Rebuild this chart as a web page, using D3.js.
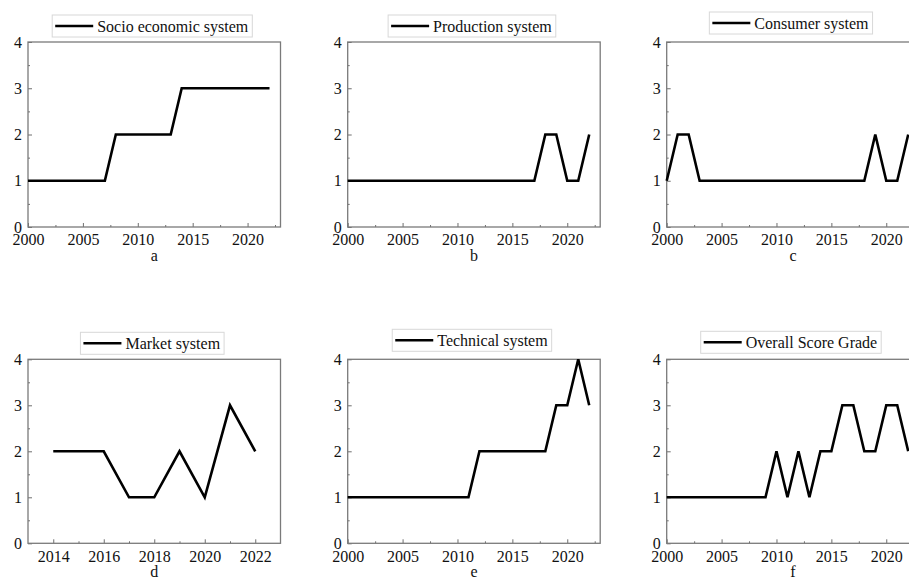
<!DOCTYPE html>
<html>
<head>
<meta charset="utf-8">
<script src="https://cdn.jsdelivr.net/npm/d3@7"></script>
<style>
  body { margin: 0; background: #fff; }
  svg { display: block; }
  .tick line { stroke: #6e6e6e; }
</style>
</head>
<body>
<div id="chart"></div>
<script>
// years on the x axis
var yearsFull = [2000, 2001, 2002, 2003, 2004, 2005, 2006, 2007, 2008, 2009, 2010, 2011,
  2012, 2013, 2014, 2015, 2016, 2017, 2018, 2019, 2020, 2021, 2022];
var yearsMarket = [2014, 2015, 2016, 2017, 2018, 2019, 2020, 2021, 2022];

// grade values
var socioValues      = [1, 1, 1, 1, 1, 1, 1, 1, 2, 2, 2, 2, 2, 2, 3, 3, 3, 3, 3, 3, 3, 3, 3];
var productionValues = [1, 1, 1, 1, 1, 1, 1, 1, 1, 1, 1, 1, 1, 1, 1, 1, 1, 1, 2, 2, 1, 1, 2];
var consumerValues   = [1, 2, 2, 1, 1, 1, 1, 1, 1, 1, 1, 1, 1, 1, 1, 1, 1, 1, 1, 2, 1, 1, 2];
var marketValues     = [2, 2, 2, 1, 1, 2, 1, 3, 2];
var technicalValues  = [1, 1, 1, 1, 1, 1, 1, 1, 1, 1, 1, 1, 2, 2, 2, 2, 2, 2, 2, 3, 3, 4, 3];
var overallValues    = [1, 1, 1, 1, 1, 1, 1, 1, 1, 1, 2, 1, 2, 1, 2, 2, 3, 3, 2, 2, 3, 3, 2];

// tick labels
var yTicks = [0, 1, 2, 3, 4];
var yMinor = [0.5, 1.5, 2.5, 3.5];
var xTicksFull = [2000, 2005, 2010, 2015, 2020];
var xMinorFull = [2002.5, 2007.5, 2012.5, 2017.5, 2022.5];
var xTicksMarket = [2014, 2016, 2018, 2020, 2022];
var xMinorMarket = [2015, 2017, 2019, 2021];

var seriesNames = ["Socio economic system", "Production system", "Consumer system",
  "Market system", "Technical system", "Overall Score Grade"];
var panelLetters = ["a", "b", "c", "d", "e", "f"];

var svgWidth = 909;
var svgHeight = 578;
var plotW = 252.5;
var serif = "'Liberation Serif', 'Times New Roman', Times, 'DejaVu Serif', serif";

var svg = d3.select("#chart").append("svg")
  .attr("width", svgWidth)
  .attr("height", svgHeight)
  .attr("font-family", serif);

svg.append("rect").attr("width", svgWidth).attr("height", svgHeight).attr("fill", "#fff");

var panels = [
  { years: yearsFull, values: socioValues, xDomain: [2000, 2023], xTicks: xTicksFull, xMinor: xMinorFull,
    left: 28, top: 42, h: 185, legendGap: 27 },
  { years: yearsFull, values: productionValues, xDomain: [2000, 2023], xTicks: xTicksFull, xMinor: xMinorFull,
    left: 347.7, top: 42, h: 185, legendGap: 27 },
  { years: yearsFull, values: consumerValues, xDomain: [2000, 2023], xTicks: xTicksFull, xMinor: xMinorFull,
    left: 666.7, top: 42, h: 185, legendGap: 30 },
  { years: yearsMarket, values: marketValues, xDomain: [2013, 2023], xTicks: xTicksMarket, xMinor: xMinorMarket,
    left: 28, top: 359.3, h: 184, legendGap: 27 },
  { years: yearsFull, values: technicalValues, xDomain: [2000, 2023], xTicks: xTicksFull, xMinor: xMinorFull,
    left: 347.7, top: 359.3, h: 184, legendGap: 30 },
  { years: yearsFull, values: overallValues, xDomain: [2000, 2023], xTicks: xTicksFull, xMinor: xMinorFull,
    left: 666.7, top: 359.3, h: 184, legendGap: 28 }
];

function styleTicks(a) {
  a.select(".domain").remove();
  a.attr("font-family", serif).attr("font-size", 16);
  a.selectAll(".tick text").attr("fill", "#111").attr("font-family", serif);
}

panels.forEach(function(p, i) {
  var g = svg.append("g").attr("transform", `translate(${p.left}, ${p.top})`);

  var x = d3.scaleLinear().domain(p.xDomain).range([0, plotW]);
  var y = d3.scaleLinear().domain([0, 4]).range([p.h, 0]);

  // minor ticks, pointing in
  g.append("g")
    .attr("transform", `translate(0, ${p.h})`)
    .call(d3.axisBottom(x).tickValues(p.xMinor).tickSize(-2).tickFormat(""))
    .call(styleTicks);
  g.append("g")
    .call(d3.axisLeft(y).tickValues(yMinor).tickSize(-2).tickFormat(""))
    .call(styleTicks);

  // major ticks
  g.append("g")
    .attr("transform", `translate(0, ${p.h})`)
    .call(d3.axisBottom(x).tickValues(p.xTicks).tickFormat(d3.format("d"))
      .tickSizeInner(-4).tickSizeOuter(0).tickPadding(7))
    .call(styleTicks);
  g.append("g")
    .call(d3.axisLeft(y).tickValues(yTicks).tickFormat(d3.format("d"))
      .tickSizeInner(-4).tickSizeOuter(0).tickPadding(6))
    .call(styleTicks);

  // plot frame
  g.append("rect")
    .attr("width", plotW)
    .attr("height", p.h)
    .attr("fill", "none")
    .attr("stroke", "#7a7a7a")
    .attr("stroke-width", 1.3);

  var line = d3.line()
    .x((d, j) => x(p.years[j]))
    .y(d => y(d));

  g.append("path")
    .datum(p.values)
    .attr("d", line)
    .attr("fill", "none")
    .attr("stroke", "#000")
    .attr("stroke-width", 2.6)
    .attr("stroke-linejoin", "miter");

  // legend
  var leg = g.append("g");
  var legText = leg.append("text")
    .attr("font-size", 16)
    .attr("font-family", serif)
    .attr("fill", "#111")
    .text(seriesNames[i]);
  var tw = legText.node().getComputedTextLength();
  var boxW = 45 + tw + 4;
  var boxH = 22;
  var bx = plotW / 2 - 2 - boxW / 2;
  var by = -p.legendGap;
  leg.insert("rect", "text")
    .attr("x", bx)
    .attr("y", by)
    .attr("width", boxW)
    .attr("height", boxH)
    .attr("fill", "#fff")
    .attr("stroke", "#d8d8d8");
  leg.append("line")
    .attr("x1", bx + 3)
    .attr("x2", bx + 41)
    .attr("y1", by + boxH / 2)
    .attr("y2", by + boxH / 2)
    .attr("stroke", "#000")
    .attr("stroke-width", 2.6);
  legText.attr("x", bx + 45).attr("y", by + boxH / 2 + 5.5);

  // panel letter
  g.append("text")
    .attr("x", plotW / 2)
    .attr("y", p.h + 34)
    .attr("text-anchor", "middle")
    .attr("font-size", 16)
    .attr("font-family", serif)
    .attr("fill", "#111")
    .text(panelLetters[i]);
});
</script>
</body>
</html>
